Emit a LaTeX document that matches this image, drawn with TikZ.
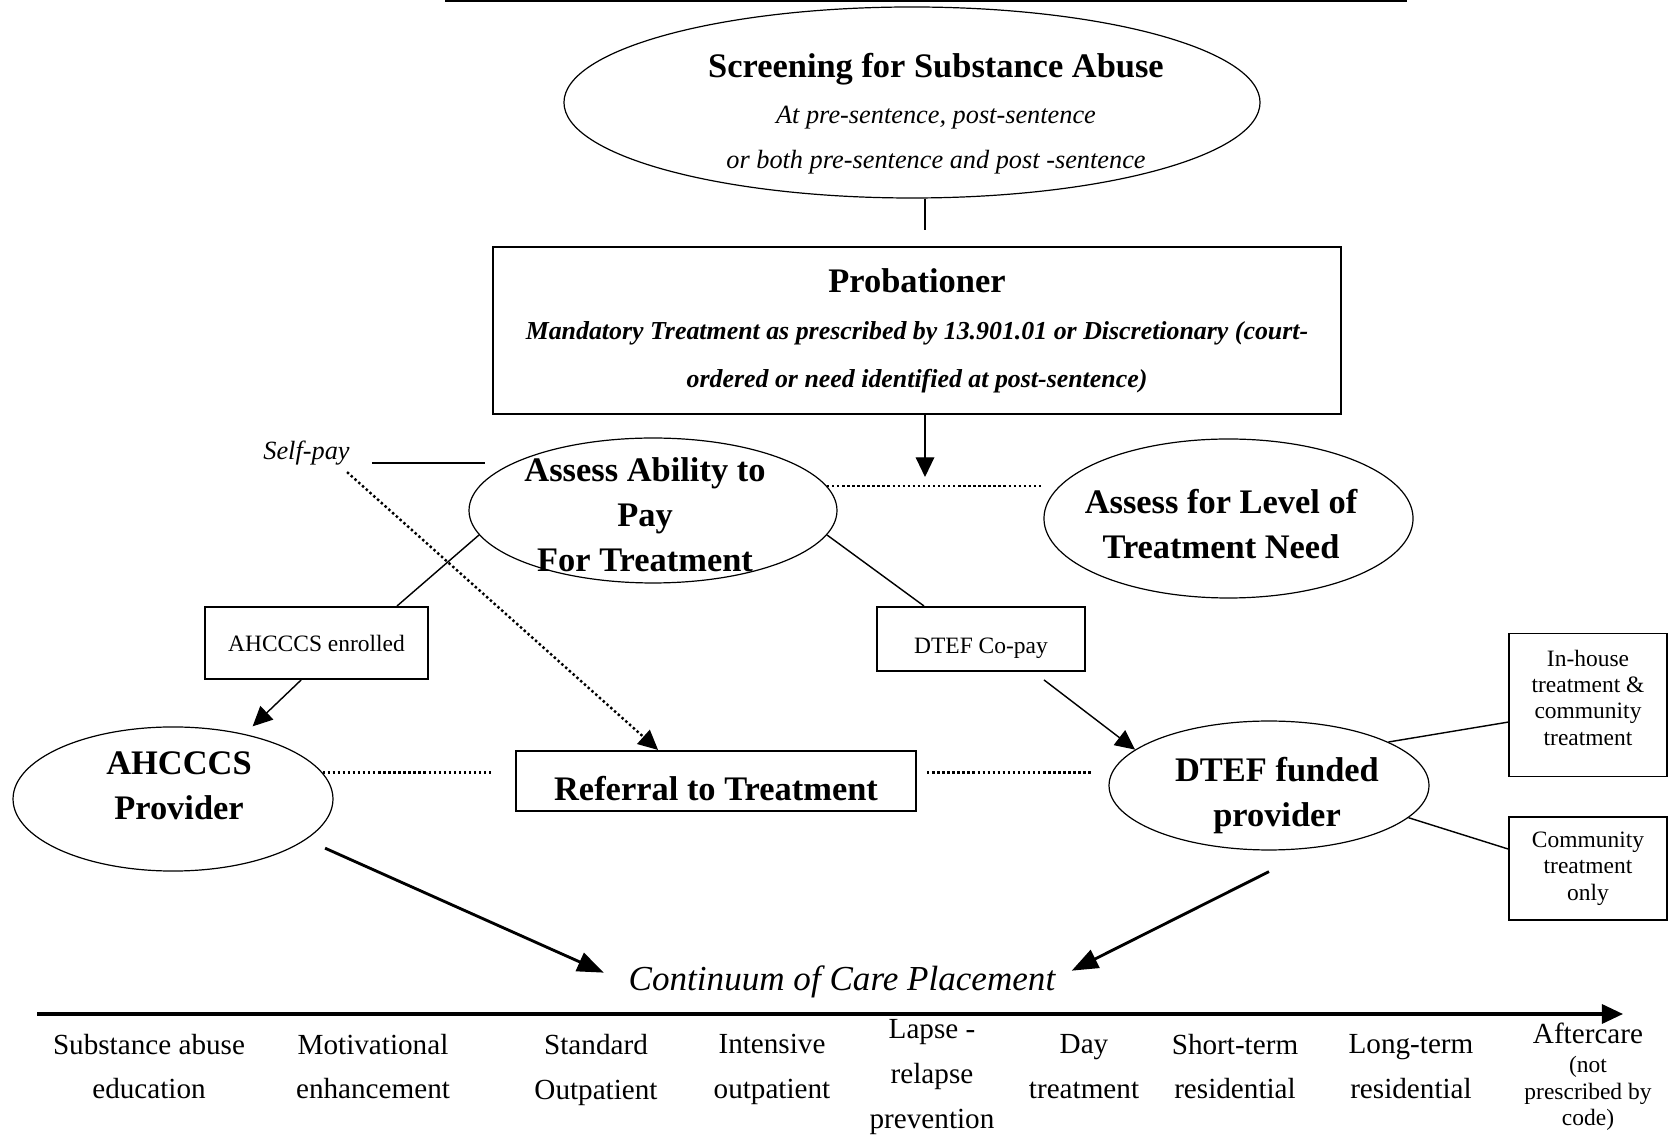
\documentclass[tikz,border=0pt]{standalone}
\usepackage{fontspec}
\setmainfont{Liberation Serif}
\usetikzlibrary{arrows.meta,shapes.geometric}

\begin{document}
\begin{tikzpicture}[x=4.56pt,y=4.56pt,
  oval/.style={draw,ellipse,line width=0.55pt,inner sep=0pt},
  box/.style={draw,rectangle,line width=0.9pt,align=center},
  conn/.style={line width=0.65pt},
  dots/.style={line width=1.1pt,dash pattern=on 1.1pt off 1.2pt},
  bigarrow/.style={line width=1.3pt,-{Triangle[length=12pt,width=9pt]}},
  >={Triangle[length=9pt,width=8.5pt]},
  boldtxt/.style={font=\fontsize{15.7}{20.5}\selectfont\bfseries,align=center,inner sep=0pt},
  bodytxt/.style={font=\fontsize{13.3}{20.5}\selectfont,align=center,inner sep=0pt},
  smalltxt/.style={font=\fontsize{10.7}{12}\selectfont}]
\useasboundingbox (0,0) rectangle (166.9,113.8);
\draw[line width=0.9pt] (44.5,113.7) -- (140.7,113.7);
\node[oval,minimum width=317.4pt,minimum height=87.1pt] (screen) at (91.2,103.55) {};
\node[font=\fontsize{12}{20.8}\selectfont\itshape,align=center,inner sep=0pt] (screentxt) at (93.6,102.4) {{\fontsize{15.7}{20.8}\selectfont\bfseries\upshape Screening for Substance Abuse}\\At pre-sentence, post-sentence\\or both pre-sentence and post -sentence};
\node[box,minimum width=386.7pt,minimum height=76.2pt,font=\fontsize{11.8}{21.6}\selectfont\bfseries\itshape] (prob) at (91.7,80.75) {{\fontsize{15.7}{21.6}\selectfont\upshape Probationer}\\Mandatory Treatment as prescribed by 13.901.01 or Discretionary (court-\\ordered or need identified at post-sentence)};
\node[oval,minimum width=167.8pt,minimum height=66.1pt] (pay) at (65.3,62.75) {};
\node[boldtxt] (paytxt) at (64.5,62.3) {Assess Ability to\\Pay\\For Treatment};
\node[oval,minimum width=168.3pt,minimum height=72.5pt] (level) at (122.85,61.95) {};
\node[boldtxt] (leveltxt) at (122.1,61.35) {Assess for Level of\\Treatment Need};
\node[font=\fontsize{12}{14}\selectfont\itshape,inner sep=3pt] (selfpay) at (30.65,68.5) {Self-pay};
\node[box,smalltxt,minimum width=101.7pt,minimum height=32.8pt,text height=10.3pt,text depth=2.4pt] (enr) at (31.65,49.5) {AHCCCS enrolled};
\node[box,smalltxt,minimum width=94.8pt,minimum height=29.2pt,text height=15.3pt,text depth=2.4pt] (copay) at (98.1,49.9) {DTEF Co-pay};
\node[oval,minimum width=145.9pt,minimum height=65.7pt] (ahc) at (17.3,33.9) {};
\node[boldtxt] (ahctxt) at (17.9,35.25) {AHCCCS\\Provider};
\node[box,minimum width=182.4pt,minimum height=27.4pt,text height=17.6pt,text depth=0pt,font=\fontsize{15.7}{20.5}\selectfont\bfseries] (ref) at (71.6,35.7) {Referral to Treatment};
\node[oval,minimum width=145.9pt,minimum height=58.8pt] (dtef) at (126.9,35.25) {};
\node[boldtxt] (dteftxt) at (127.7,34.25) {DTEF funded\\provider};
\node[box,smalltxt,minimum width=72pt,minimum height=65.2pt,text depth=6.8pt] (inh) at (158.8,43.3) {In-house\\treatment \&\\community\\treatment};
\node[box,smalltxt,minimum width=72pt,minimum height=47pt] (comm) at (158.8,26.95) {Community\\treatment\\only};
\node[font=\fontsize{16}{18}\selectfont\itshape,inner sep=0pt] (cont) at (84.2,15.57) {Continuum of Care Placement};
\coordinate (gap) at (92.5,90.8);
\coordinate (tip) at (92.5,66.1);
\coordinate (spend) at (48.5,67.5);
\draw[conn] (screen.south -| gap) -- (gap);
\draw[conn,->] (prob.south -| tip) -- (tip);
\draw[dots] (pay.8) -- (pay.8 -| level.west);
\draw[line width=1.1pt,shorten <=7pt] (selfpay.east |- spend) -- (spend);
\draw[dots,->] ([xshift=18.5pt]selfpay.south) -- ([xshift=-26.4pt]ref.north);
\draw[conn] (pay.188) -- ([xshift=36.7pt]enr.north);
\draw[conn,->] ([xshift=-7pt]enr.south) -- ([xshift=36.3pt]ahc.north);
\draw[conn] (pay.-8) -- ([xshift=-26pt]copay.north);
\draw[conn,->] ([xshift=28.7pt,yshift=-3.6pt]copay.south) -- (dtef.165);
\draw[dots,shorten >=11pt] (ahc.10) -- (ahc.10 -| ref.west);
\draw[dots,shorten <=4.6pt,shorten >=7pt] (ahc.10 -| ref.east) -- (ahc.10 -| dtef.west);
\draw[conn] (dtef.20) -- ([yshift=-7.8pt]inh.west);
\draw[conn] (dtef.-13) -- ([yshift=8.9pt]comm.west);
\draw[bigarrow,shorten <=9.5pt] (ahc.-17) -- ([xshift=-11.2pt,yshift=4.4pt]cont.west);
\draw[bigarrow] ([yshift=-9.6pt]dtef.south) -- ([xshift=7.3pt,yshift=5.3pt]cont.east);
\coordinate (axl) at (3.7,12.4);
\coordinate (axr) at (162.3,12.4);
\draw[line width=1.4pt,-{Triangle[length=9.6pt,width=8.7pt]}] (axl) -- (axr);
\node[bodytxt] (c1) at (14.9,7.15) {Substance abuse\\education};
\node[bodytxt] (c2) at (37.3,7.15) {Motivational\\enhancement};
\node[bodytxt] (c3) at (59.6,6.83) {Standard\\Outpatient};
\node[bodytxt] (c4) at (77.2,6.83) {Intensive\\outpatient};
\node[bodytxt] (c5) at (93.2,6.1) {Lapse -\\relapse\\prevention};
\node[bodytxt] (c6) at (108.4,7.15) {Day\\treatment};
\node[bodytxt] (c7) at (123.5,7.15) {Short-term\\residential};
\node[bodytxt] (c8) at (141.1,7.15) {Long-term\\residential};
\node[smalltxt,align=center,inner sep=0pt] (c9) at (158.8,6.15) {{\fontsize{13.3}{12}\selectfont Aftercare}\\[1.5pt](not\\prescribed by\\code)};
\end{tikzpicture}
\end{document}
